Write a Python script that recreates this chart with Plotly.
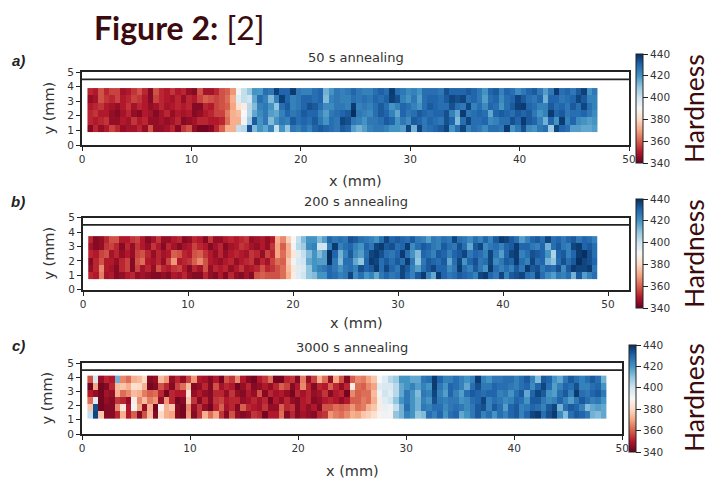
import plotly.graph_objects as go

W, H = 709, 479

a_r6 = [352,350,358,352,356,356,348,350,354,358,352,344,358,352,350,354,350,352,346,344,358,348,348,352,358,360,368,392,402,409,
        420,419,428,426,437,430,430,438,426,424,424,428,430,414,420,426,
        424,426,430,426,424,424,428,431,428,438,428,426,422,424,420,428,428,428,426,434,430,430,430,432,430,426,420,430,432,424,430,428,422,426,430,432,426,418,426,438,428,430,426,432,437,420,426]
a_r5 = [346,348,358,354,352,356,350,352,356,354,350,344,356,352,350,348,352,346,352,350,356,360,358,356,358,362,372,396,402,400,
        416,428,424,412,424,437,430,424,426,430,430,428,430,412,424,426,
        424,424,428,426,428,426,430,428,431,437,434,424,420,426,418,428,430,430,428,432,436,434,436,428,430,426,418,428,430,422,428,430,436,432,428,426,430,414,430,430,426,428,430,436,432,424,424]
a_r4 = [350,352,354,350,348,346,350,354,348,352,350,346,348,352,348,350,352,350,352,344,344,352,350,356,358,360,370,382,386,404,
        412,424,426,420,410,428,432,424,426,430,434,432,428,422,422,426,
        426,424,438,424,426,424,428,432,428,420,424,430,428,424,420,428,432,430,428,428,434,428,426,436,424,428,422,430,428,420,428,432,437,438,430,428,424,424,432,428,430,426,432,428,436,428,424]
a_r3 = [352,354,350,350,346,344,348,352,346,344,350,348,344,348,352,346,350,348,350,344,346,350,352,356,356,364,372,374,390,404,
        416,422,426,418,416,424,430,426,428,432,430,430,424,418,426,428,
        430,432,440,426,424,422,428,432,430,424,416,430,426,428,432,430,428,430,430,434,424,416,438,426,428,430,428,416,430,432,430,428,432,430,432,426,420,424,438,430,432,426,428,428,430,426,422]
a_r2 = [352,350,352,354,346,346,350,348,354,350,352,346,346,348,346,348,352,344,346,348,352,352,350,350,352,362,372,372,392,408,
        432,420,426,412,420,426,424,432,428,430,428,432,426,420,428,426,
        436,434,426,424,420,426,426,428,432,430,420,426,422,432,430,426,430,428,426,434,430,412,428,436,428,428,430,422,424,428,428,434,430,438,432,430,424,414,430,420,438,424,430,422,420,418,420]
a_r1 = [344,352,346,350,356,352,346,348,348,352,346,358,346,346,348,352,344,354,358,346,342,342,344,352,360,372,372,402,404,434,
        412,420,416,424,402,420,410,426,424,428,424,430,432,430,428,426,
        432,430,418,414,418,424,426,426,424,420,420,418,436,414,436,426,428,430,432,436,420,428,436,424,428,426,422,428,428,426,438,420,426,434,422,420,426,428,408,436,430,428,418,418,416,416,418]

b_r6 = [352,344,346,352,358,358,350,350,354,356,350,344,348,354,346,346,350,352,344,346,352,350,344,354,346,346,350,352,350,352,354,346,348,350,346,350,
        372,366,378,390,402,412,420,420,412,418,430,426,
        428,426,434,432,428,426,424,420,428,436,430,432,430,428,432,426,424,418,426,424,428,426,436,428,426,422,428,424,430,424,432,438,436,432,428,418,424,430,432,428,436,428,430,426,430,432,426,430,428,424]
b_r5 = [348,344,346,354,356,352,344,352,346,354,350,346,354,350,344,352,348,344,348,350,356,352,350,344,348,352,344,348,350,354,352,348,346,350,346,354,
        370,360,372,392,404,408,422,424,400,400,425,438,
        424,428,430,424,420,430,426,436,438,432,434,428,430,438,422,428,432,430,426,424,432,428,426,434,428,416,432,436,422,426,428,424,430,432,438,430,430,426,424,430,414,428,432,426,424,436,438,430,432,428]
b_r4 = [352,350,356,358,348,352,346,350,346,356,358,352,346,352,348,350,360,358,352,350,358,360,354,350,346,352,346,350,352,350,348,354,352,346,356,352,
        370,362,372,384,396,402,412,420,412,418,440,430,
        414,424,432,422,418,428,436,438,434,428,426,430,438,428,420,412,430,428,424,432,430,424,430,432,436,426,430,428,424,436,426,418,430,436,438,424,428,434,432,430,420,406,430,432,424,430,438,440,434,428]
b_r3 = [344,352,358,350,350,346,352,356,344,358,362,350,348,352,346,356,368,350,352,354,360,366,358,350,348,346,350,352,346,350,352,354,346,352,348,356,
        362,360,376,392,398,400,416,420,418,418,440,426,
        412,428,428,416,410,430,438,436,428,432,428,432,428,438,426,410,426,432,430,428,432,416,428,436,420,430,434,426,428,436,422,426,432,430,438,428,424,436,428,430,414,410,428,434,428,432,440,436,434,430]
b_r2 = [346,352,366,350,348,344,352,356,344,356,348,352,346,358,352,350,354,356,350,344,352,348,358,346,352,350,352,346,350,354,348,350,352,358,352,354,
        358,362,374,384,396,398,410,420,424,426,430,426,
        420,426,428,424,434,430,432,438,428,436,430,426,436,432,424,418,428,432,436,430,430,422,426,438,428,424,432,426,420,438,428,424,428,424,432,426,438,432,434,426,430,428,434,422,432,438,436,436,438,426]
b_r1 = [352,350,364,348,350,344,346,350,352,346,348,346,344,344,346,344,350,348,352,346,344,344,352,346,344,350,344,352,346,344,348,344,358,360,358,358,
        358,362,372,386,396,400,410,412,420,420,430,428,
        424,426,436,422,428,420,424,416,426,430,426,428,436,430,424,432,438,424,416,438,430,426,428,432,430,428,424,436,438,430,426,436,424,432,434,436,428,426,436,428,422,418,426,424,428,414,432,418,424,428]

c_r6 = [358,398,346,352,350,414,366,362,372,374,380,344,346,374,368,346,352,346,356,368,350,348,344,350,342,358,354,366,350,344,342,350,354,362,342,342,352,354,344,364,346,356,372,362,346,370,358,
        344,360,366,364,370,376,390,396,404,408,420,420,416,416,426,428,438,430,424,424,428,424,420,424,438,424,420,426,426,428,428,424,428,432,424,412,432,430,420,416,426,432,428,424,428,432,428,414]
c_r5 = [342,370,342,344,352,374,376,372,382,380,372,342,344,358,352,344,356,362,374,344,346,352,344,358,348,352,350,342,346,352,344,346,350,346,352,360,356,344,350,366,352,344,352,350,360,352,346,
        352,386,362,360,366,370,396,398,398,404,416,420,424,418,424,420,438,426,420,430,428,424,416,428,434,426,426,430,428,428,426,424,428,430,422,430,436,428,418,424,430,428,434,424,424,428,430,420]
c_r4 = [350,346,342,348,346,372,362,366,374,372,364,360,362,352,342,352,350,350,382,346,350,346,344,352,352,346,354,346,344,350,346,358,344,352,348,350,346,342,352,348,352,346,348,354,344,350,352,
        342,366,360,362,362,374,392,400,396,404,416,426,420,412,426,424,436,424,418,430,424,418,428,432,430,428,430,430,424,426,420,428,432,416,430,436,432,420,418,428,432,424,438,428,426,430,432,426]
c_r3 = [362,396,342,346,344,354,352,346,386,366,374,364,368,346,368,352,342,344,376,354,344,352,344,354,356,350,352,352,346,348,352,348,352,342,350,346,352,346,344,350,352,344,346,350,352,350,346,
        350,360,360,364,362,372,386,396,400,410,420,426,420,414,424,420,434,426,424,426,426,420,422,428,430,436,424,428,426,422,424,430,428,420,432,432,426,422,424,430,424,418,426,432,428,424,426,420]
c_r2 = [376,434,342,344,344,366,384,350,392,370,346,372,342,388,372,376,344,342,366,346,354,346,342,352,360,348,352,344,360,352,350,348,354,346,346,360,352,354,344,350,346,350,344,358,358,362,360,
        362,368,362,364,372,376,386,394,392,402,414,428,420,414,426,424,428,428,422,426,428,426,422,426,432,434,424,432,428,418,430,432,424,426,430,428,424,432,436,414,428,432,430,424,412,416,418,416]
c_r1 = [402,436,376,344,344,352,372,350,360,344,358,374,344,380,372,370,344,342,368,344,354,372,362,370,354,344,358,346,344,346,354,352,342,350,350,362,344,352,344,348,346,344,352,354,368,364,362,
        366,372,370,376,378,382,388,392,388,410,414,424,420,410,412,428,424,430,420,428,430,416,420,426,432,424,428,420,428,424,430,432,424,430,436,438,428,434,438,422,412,428,432,430,426,414,412,416]

panel_rows = [[a_r1, a_r2, a_r3, a_r4, a_r5, a_r6],
              [b_r1, b_r2, b_r3, b_r4, b_r5, b_r6],
              [c_r1, c_r2, c_r3, c_r4, c_r5, c_r6]]
for rows in panel_rows:
    assert len({len(r) for r in rows}) == 1, [len(r) for r in rows]

panel_titles = ["50 s annealing", "200 s annealing", "3000 s annealing"]
panel_tags = ["a)", "b)", "c)"]
x_ticks = [0, 10, 20, 30, 40, 50]
y_ticks = [0, 1, 2, 3, 4, 5]
cbar_ticks = [340, 360, 380, 400, 420, 440]
outline_level = 4.5
x_limits = [50, 52, 50]

# layout in pixels: axes left, right, top, bottom; cbar left, top, bottom
geom = [dict(l=82, r=629, t=72, b=145, cx=636, ct=54, cb=163, x0=0.5, x1=47.08, y0=0.9, dy=0.5, ttl=57, xt=181, yt=49, tag=(18, 60), hx=694, hy=109),
        dict(l=83, r=629, t=217.7, b=289.7, cx=636, ct=199.5, cb=308, x0=0.5, x1=48.95, y0=0.72, dy=0.5, ttl=202, xt=323, yt=49, tag=(18, 202), hx=694, hy=254),
        dict(l=82, r=622.3, t=363, b=434, cx=629, ct=345.5, cb=452, x0=0.5, x1=48.55, y0=1.05, dy=0.51, ttl=347, xt=471, yt=46, tag=(18, 345), hx=694, hy=398)]

rdbu = [[0.0, "#67001f"], [0.1, "#b2182b"], [0.2, "#d6604d"], [0.3, "#f4a582"], [0.4, "#fddbc7"],
        [0.5, "#f7f7f7"], [0.6, "#d1e5f0"], [0.7, "#92c5de"], [0.8, "#4393c3"], [0.9, "#2166ac"], [1.0, "#053061"]]

INK = "#222222"
DARK = "#3b0b0d"
TICKF = dict(family="DejaVu Sans", size=10.5, color="#333333")


def fx(px):
    return px / W


def fy(px):
    return 1 - px / H


fig = go.Figure()
annotations = []
shapes = []
layout_axes = {}

for i, (rows, g) in enumerate(zip(panel_rows, geom)):
    n = "" if i == 0 else str(i + 1)
    dx = (g["x1"] - g["x0"]) / len(rows[0])
    fig.add_trace(go.Heatmap(
        z=rows, x0=g["x0"] + dx / 2, dx=dx, y0=g["y0"] + g["dy"] / 2, dy=g["dy"],
        xaxis=f"x{n}", yaxis=f"y{n}", colorscale=rdbu, zmin=340, zmax=440, hoverinfo="skip",
        colorbar=dict(x=fx(g["cx"]), xanchor="left", xpad=0, ypad=0,
                      y=fy(g["cb"]), yanchor="bottom", lenmode="fraction", len=(g["cb"] - g["ct"]) / H,
                      thicknessmode="pixels", thickness=6.5, outlinewidth=1, outlinecolor=INK,
                      tickmode="array", tickvals=cbar_ticks, ticks="outside", ticklen=5, tickwidth=1.2,
                      tickcolor=INK, tickfont=TICKF),
    ))
    layout_axes[f"xaxis{n}"] = dict(domain=[fx(g["l"]), fx(g["r"])], range=[0, x_limits[i]], anchor=f"y{n}",
                                    tickmode="array", tickvals=x_ticks, ticks="outside", ticklen=4, tickwidth=1.3,
                                    tickcolor=INK, tickfont=TICKF, showgrid=False, zeroline=False, showline=True,
                                    linecolor=INK, linewidth=1.7, mirror=True)
    layout_axes[f"yaxis{n}"] = dict(domain=[fy(g["b"]), fy(g["t"])], range=[0, 5], anchor=f"x{n}",
                                    tickmode="array", tickvals=y_ticks, ticks="outside", ticklen=4, tickwidth=1.3,
                                    tickcolor=INK, tickfont=TICKF, showgrid=False, zeroline=False, showline=True,
                                    linecolor=INK, linewidth=1.7, mirror=True)
    shapes.append(dict(type="line", xref=f"x{n}", yref=f"y{n}", x0=0, x1=x_limits[i], y0=outline_level, y1=outline_level,
                       line=dict(color=INK, width=1.7)))
    mid = (g["l"] + g["r"]) / 2
    annotations += [
        dict(text=panel_titles[i], x=fx(mid), y=fy(g["ttl"]), font=dict(family="DejaVu Sans", size=13, color="#333333")),
        dict(text="x (mm)", x=fx(mid), y=fy(g["xt"]), font=dict(family="DejaVu Sans", size=14.5, color="#333333")),
        dict(text="y (mm)", x=fx(g["yt"]), y=fy((g["t"] + g["b"]) / 2), textangle=-90,
             font=dict(family="DejaVu Sans", size=14.5, color="#333333")),
        dict(text=f"<b><i>{panel_tags[i]}</i></b>", x=fx(g["tag"][0]), y=fy(g["tag"][1]),
             font=dict(family="Liberation Sans", size=15, color="#222222")),
        dict(text="Hardness", x=fx(g["hx"]), y=fy(g["hy"]), textangle=-90,
             font=dict(family="Lato", size=26.5, color=DARK)),
    ]

annotations.append(dict(text="<b>Figure 2:</b> [2]", x=fx(179), y=fy(28),
                        font=dict(family="Lato", size=32, color=DARK)))
for a in annotations:
    a.update(xref="paper", yref="paper", showarrow=False, xanchor="center", yanchor="middle")

fig.update_layout(width=W, height=H, margin=dict(l=0, r=0, t=0, b=0, autoexpand=False),
                  paper_bgcolor="white", plot_bgcolor="white",
                  showlegend=False, annotations=annotations, shapes=shapes, **layout_axes)
fig.write_html("out.html", config={"displayModeBar": False},
               post_script="document.body.style.margin='0';document.body.style.overflow='hidden';")
